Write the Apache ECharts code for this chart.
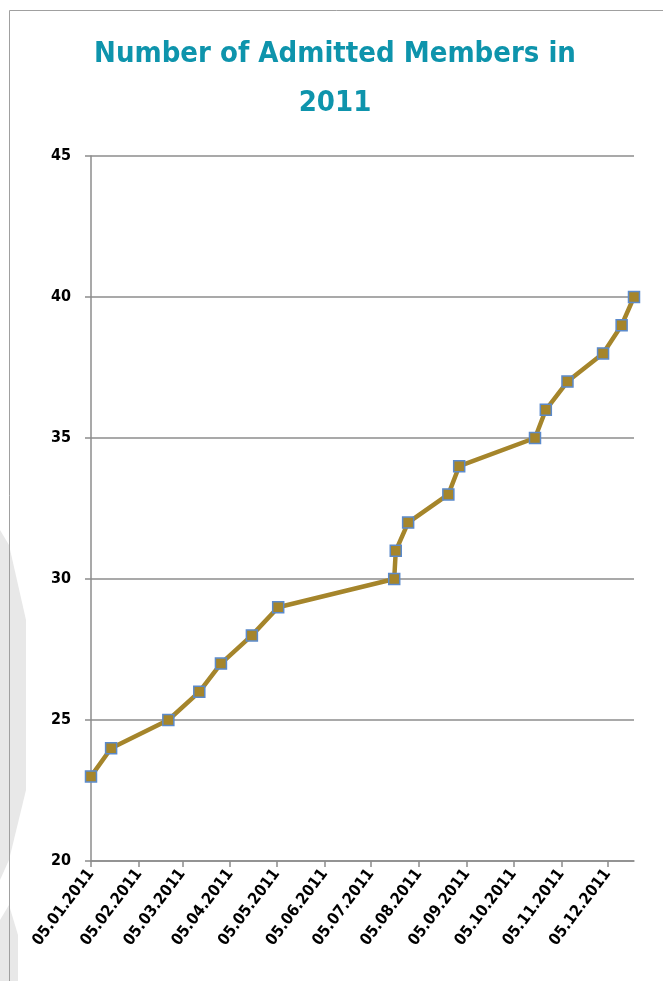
<!DOCTYPE html>
<html lang="en">
  <head>
    <meta charset="UTF-8" />
    <script src="https://cdn.jsdelivr.net/npm/echarts@6/dist/echarts.min.js"></script>
    <title>Number of Admitted Members in 2011</title>
    <style>
      html, body { margin: 0; padding: 0; background: #fff; }
      #app { width: 663px; height: 981px; }
    </style>
  </head>
  <body>
    <div id="app"></div>
    <script>
      // admission dates and running member count
      const admitDates = [
        "2011-01-05", "2011-01-18", "2011-02-24", "2011-03-16", "2011-03-30",
        "2011-04-19", "2011-05-06", "2011-07-20", "2011-07-21", "2011-07-29",
        "2011-08-24", "2011-08-31", "2011-10-19", "2011-10-26", "2011-11-09",
        "2011-12-02", "2011-12-14", "2011-12-22"
      ];
      const members = [23, 24, 25, 26, 27, 28, 29, 30, 31, 32, 33, 34, 35, 36, 37, 38, 39, 40];
      const tickLabels = [
        "05.01.2011", "05.02.2011", "05.03.2011", "05.04.2011", "05.05.2011", "05.06.2011",
        "05.07.2011", "05.08.2011", "05.09.2011", "05.10.2011", "05.11.2011", "05.12.2011"
      ];

      const iso = (s) => { const p = s.split("-"); return new Date(+p[0], +p[1] - 1, +p[2]).getTime(); };
      const dmy = (s) => { const p = s.split("."); return new Date(+p[2], +p[1] - 1, +p[0]).getTime(); };
      const pad = (n) => (n < 10 ? "0" : "") + n;
      const fmt = (v) => { const d = new Date(v); return pad(d.getDate()) + "." + pad(d.getMonth() + 1) + "." + d.getFullYear(); };

      const tickValues = tickLabels.map(dmy);
      const seriesData = admitDates.map((d, i) => [iso(d), members[i]]);

      const font = "'DejaVu Sans Condensed', 'Noto Sans', sans-serif";
      const gridColor = "#8c8c8c";

      const chart = echarts.init(document.getElementById("app"));
      chart.setOption({
        animation: false,
        backgroundColor: "#fff",
        title: {
          text: "Number of Admitted Members in\n2011",
          left: 330,
          textAlign: "center",
          top: 25,
          textStyle: {
            color: "#0E94AC",
            fontFamily: font,
            fontWeight: "bold",
            fontSize: 29,
            lineHeight: 49,
          },
        },
        graphic: [
          // slide background decoration on the left
          { type: "polygon", z: -10, shape: { points: [[0, 530], [9, 545], [26, 620], [26, 790], [9, 860], [0, 880]] }, style: { fill: "#e8e8e8" } },
          { type: "polygon", z: -10, shape: { points: [[0, 920], [9, 905], [18, 935], [18, 981], [0, 981]] }, style: { fill: "#e8e8e8" } },
          // chart frame
          { type: "polyline", z: -5, shape: { points: [[9.5, 981], [9.5, 10.5], [663, 10.5]] }, style: { stroke: "#a0a0a0", lineWidth: 1, fill: null } },
        ],
        grid: { left: 91, right: 29, top: 156, bottom: 120, containLabel: false, outerBoundsMode: "none" },
        xAxis: {
          type: "value",
          min: iso(admitDates[0]),
          max: iso(admitDates[admitDates.length - 1]),
          splitLine: { show: false },
          axisLine: { lineStyle: { color: gridColor, width: 1.5 } },
          axisTick: { show: true, customValues: tickValues, length: 6, lineStyle: { color: gridColor, width: 1.5 } },
          axisLabel: {
            customValues: tickValues,
            formatter: (v) => fmt(v),
            rotate: 53,
            margin: 10,
            color: "#000",
            fontFamily: font,
            fontWeight: "bold",
            fontSize: 16,
            hideOverlap: false,
          },
        },
        yAxis: {
          type: "value",
          min: 20,
          max: 45,
          interval: 5,
          axisLine: { show: true, lineStyle: { color: gridColor, width: 1.5 } },
          axisTick: { show: true, length: 6, lineStyle: { color: gridColor, width: 1.5 } },
          splitLine: { lineStyle: { color: gridColor, width: 1.5 } },
          axisLabel: { color: "#000", fontFamily: font, fontWeight: "bold", fontSize: 16, margin: 20 },
        },
        series: [
          {
            type: "line",
            data: seriesData,
            symbol: "rect",
            symbolSize: 11,
            lineStyle: { color: "#A5852B", width: 4.5 },
            itemStyle: { color: "#A5852B", borderColor: "#5B8ACB", borderWidth: 1.5 },
          },
        ],
      });
    </script>
  </body>
</html>
